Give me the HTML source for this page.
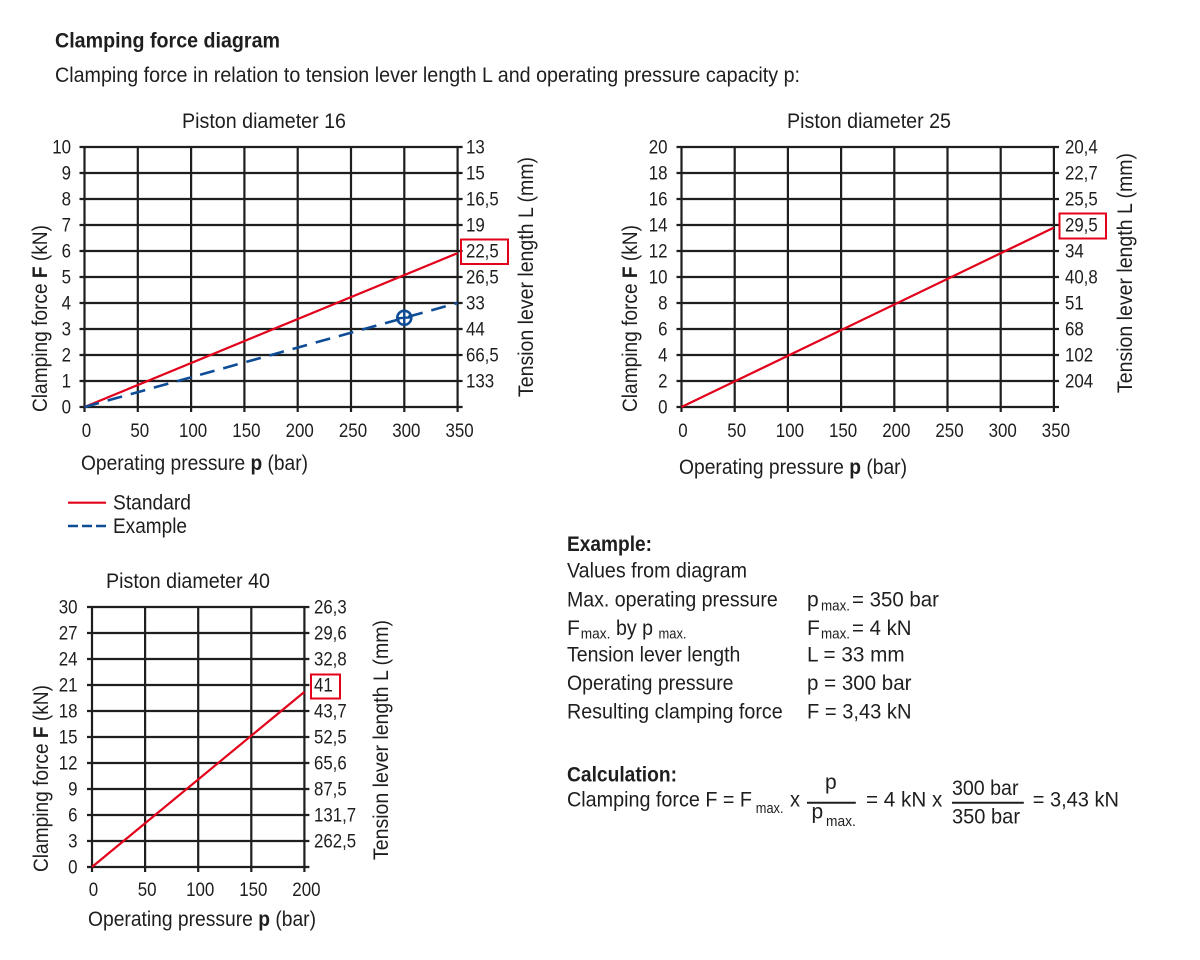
<!DOCTYPE html>
<html><head><meta charset="utf-8"><style>
html,body{margin:0;padding:0;background:#fff;}
svg{display:block;}
text{font-family:"Liberation Sans Narrow","Liberation Sans",sans-serif;fill:#1e1e1e;}
.t{font-size:19px;}
.l{font-size:21px;}
.s{font-size:15px;}
.g line{stroke:#1e1e1e;stroke-width:2.2;}
</style></head><body>
<svg width="1200" height="960" viewBox="0 0 1200 960" xmlns="http://www.w3.org/2000/svg">
<!-- Header -->
<text x="55" y="47.3" class="l" font-weight="bold" textLength="225" lengthAdjust="spacingAndGlyphs">Clamping force diagram</text>
<text x="55" y="82" class="l" textLength="745" lengthAdjust="spacingAndGlyphs">Clamping force in relation to tension lever length L and operating pressure capacity p:</text>

<!-- ============ Chart 1 ============ -->
<text x="182" y="128" class="l" textLength="164" lengthAdjust="spacingAndGlyphs">Piston diameter 16</text>
<g class="g">
<line x1="79.5" y1="147" x2="462.6" y2="147"/><line x1="79.5" y1="173" x2="462.6" y2="173"/>
<line x1="79.5" y1="199" x2="462.6" y2="199"/><line x1="79.5" y1="225" x2="462.6" y2="225"/>
<line x1="79.5" y1="251" x2="462.6" y2="251"/><line x1="79.5" y1="277" x2="462.6" y2="277"/>
<line x1="79.5" y1="303" x2="462.6" y2="303"/><line x1="79.5" y1="329" x2="462.6" y2="329"/>
<line x1="79.5" y1="355" x2="462.6" y2="355"/><line x1="79.5" y1="381" x2="462.6" y2="381"/>
<line x1="79.5" y1="407" x2="462.6" y2="407"/>
<line x1="84.5" y1="146" x2="84.5" y2="412"/><line x1="137.8" y1="146" x2="137.8" y2="412"/>
<line x1="191.1" y1="146" x2="191.1" y2="412"/><line x1="244.4" y1="146" x2="244.4" y2="412"/>
<line x1="297.7" y1="146" x2="297.7" y2="412"/><line x1="351" y1="146" x2="351" y2="412"/>
<line x1="404.3" y1="146" x2="404.3" y2="412"/><line x1="457.6" y1="146" x2="457.6" y2="412"/>
</g>
<g class="t" text-anchor="end">
<text x="71" y="153.5" textLength="18.8" lengthAdjust="spacingAndGlyphs">10</text>
<text x="71" y="179.5" textLength="9.4" lengthAdjust="spacingAndGlyphs">9</text>
<text x="71" y="205.5" textLength="9.4" lengthAdjust="spacingAndGlyphs">8</text>
<text x="71" y="231.5" textLength="9.4" lengthAdjust="spacingAndGlyphs">7</text>
<text x="71" y="257.5" textLength="9.4" lengthAdjust="spacingAndGlyphs">6</text>
<text x="71" y="283.5" textLength="9.4" lengthAdjust="spacingAndGlyphs">5</text>
<text x="71" y="309.5" textLength="9.4" lengthAdjust="spacingAndGlyphs">4</text>
<text x="71" y="335.5" textLength="9.4" lengthAdjust="spacingAndGlyphs">3</text>
<text x="71" y="361.5" textLength="9.4" lengthAdjust="spacingAndGlyphs">2</text>
<text x="71" y="387.5" textLength="9.4" lengthAdjust="spacingAndGlyphs">1</text>
<text x="71" y="413.5" textLength="9.4" lengthAdjust="spacingAndGlyphs">0</text>
</g>
<g class="t">
<text x="466" y="153.5" textLength="18.8" lengthAdjust="spacingAndGlyphs">13</text>
<text x="466" y="179.5" textLength="18.8" lengthAdjust="spacingAndGlyphs">15</text>
<text x="466" y="205.5" textLength="32.7" lengthAdjust="spacingAndGlyphs">16,5</text>
<text x="466" y="231.5" textLength="18.8" lengthAdjust="spacingAndGlyphs">19</text>
<text x="466" y="257.5" textLength="32.7" lengthAdjust="spacingAndGlyphs">22,5</text>
<text x="466" y="283.5" textLength="32.7" lengthAdjust="spacingAndGlyphs">26,5</text>
<text x="466" y="309.5" textLength="18.8" lengthAdjust="spacingAndGlyphs">33</text>
<text x="466" y="335.5" textLength="18.8" lengthAdjust="spacingAndGlyphs">44</text>
<text x="466" y="361.5" textLength="32.7" lengthAdjust="spacingAndGlyphs">66,5</text>
<text x="466" y="387.5" textLength="28.2" lengthAdjust="spacingAndGlyphs">133</text>
</g>
<rect x="461" y="239.5" width="47" height="24.5" fill="none" stroke="#e2001a" stroke-width="2"/>
<g class="t" text-anchor="middle">
<text x="86.5" y="437" textLength="9.4" lengthAdjust="spacingAndGlyphs">0</text>
<text x="139.8" y="437" textLength="18.8" lengthAdjust="spacingAndGlyphs">50</text>
<text x="193.1" y="437" textLength="28.2" lengthAdjust="spacingAndGlyphs">100</text>
<text x="246.4" y="437" textLength="28.2" lengthAdjust="spacingAndGlyphs">150</text>
<text x="299.7" y="437" textLength="28.2" lengthAdjust="spacingAndGlyphs">200</text>
<text x="353" y="437" textLength="28.2" lengthAdjust="spacingAndGlyphs">250</text>
<text x="406.3" y="437" textLength="28.2" lengthAdjust="spacingAndGlyphs">300</text>
<text x="459.6" y="437" textLength="28.2" lengthAdjust="spacingAndGlyphs">350</text>
</g>
<line x1="84.5" y1="407" x2="457.6" y2="253.1" stroke="#e2001a" stroke-width="2.2"/>
<line x1="84.5" y1="407" x2="457.6" y2="303" stroke="#0f4c96" stroke-width="2.6" stroke-dasharray="15 9"/>
<circle cx="404.3" cy="317.8" r="7" fill="none" stroke="#0f4c96" stroke-width="2.6"/>
<line x1="404.3" y1="310.8" x2="404.3" y2="324.8" stroke="#0f4c96" stroke-width="2.4"/>
<line x1="397.3" y1="318.3" x2="411.3" y2="317.3" stroke="#0f4c96" stroke-width="2.4"/>
<text x="81" y="470" class="l" textLength="227" lengthAdjust="spacingAndGlyphs">Operating pressure <tspan font-weight="bold">p</tspan> (bar)</text>
<text transform="translate(47,318.5) rotate(-90)" class="l" text-anchor="middle" textLength="187" lengthAdjust="spacingAndGlyphs">Clamping force <tspan font-weight="bold">F</tspan> (kN)</text>
<text transform="translate(533,277) rotate(-90)" class="l" text-anchor="middle" textLength="240" lengthAdjust="spacingAndGlyphs">Tension lever length L (mm)</text>

<!-- Legend -->
<line x1="68" y1="502.7" x2="106" y2="502.7" stroke="#e2001a" stroke-width="2.2"/>
<text x="113" y="509.5" class="l" textLength="78" lengthAdjust="spacingAndGlyphs">Standard</text>
<line x1="68" y1="526" x2="106" y2="526" stroke="#0f4c96" stroke-width="2.6" stroke-dasharray="10 4"/>
<text x="113" y="533" class="l" textLength="74" lengthAdjust="spacingAndGlyphs">Example</text>

<!-- ============ Chart 2 ============ -->
<text x="787" y="128" class="l" textLength="164" lengthAdjust="spacingAndGlyphs">Piston diameter 25</text>
<g class="g">
<line x1="676.5" y1="147" x2="1059" y2="147"/><line x1="676.5" y1="173" x2="1059" y2="173"/>
<line x1="676.5" y1="199" x2="1059" y2="199"/><line x1="676.5" y1="225" x2="1059" y2="225"/>
<line x1="676.5" y1="251" x2="1059" y2="251"/><line x1="676.5" y1="277" x2="1059" y2="277"/>
<line x1="676.5" y1="303" x2="1059" y2="303"/><line x1="676.5" y1="329" x2="1059" y2="329"/>
<line x1="676.5" y1="355" x2="1059" y2="355"/><line x1="676.5" y1="381" x2="1059" y2="381"/>
<line x1="676.5" y1="407" x2="1059" y2="407"/>
<line x1="681.5" y1="146" x2="681.5" y2="412"/><line x1="734.7" y1="146" x2="734.7" y2="412"/>
<line x1="787.9" y1="146" x2="787.9" y2="412"/><line x1="841.1" y1="146" x2="841.1" y2="412"/>
<line x1="894.3" y1="146" x2="894.3" y2="412"/><line x1="947.5" y1="146" x2="947.5" y2="412"/>
<line x1="1000.7" y1="146" x2="1000.7" y2="412"/><line x1="1053.9" y1="146" x2="1053.9" y2="412"/>
</g>
<g class="t" text-anchor="end">
<text x="667.5" y="153.5" textLength="18.8" lengthAdjust="spacingAndGlyphs">20</text>
<text x="667.5" y="179.5" textLength="18.8" lengthAdjust="spacingAndGlyphs">18</text>
<text x="667.5" y="205.5" textLength="18.8" lengthAdjust="spacingAndGlyphs">16</text>
<text x="667.5" y="231.5" textLength="18.8" lengthAdjust="spacingAndGlyphs">14</text>
<text x="667.5" y="257.5" textLength="18.8" lengthAdjust="spacingAndGlyphs">12</text>
<text x="667.5" y="283.5" textLength="18.8" lengthAdjust="spacingAndGlyphs">10</text>
<text x="667.5" y="309.5" textLength="9.4" lengthAdjust="spacingAndGlyphs">8</text>
<text x="667.5" y="335.5" textLength="9.4" lengthAdjust="spacingAndGlyphs">6</text>
<text x="667.5" y="361.5" textLength="9.4" lengthAdjust="spacingAndGlyphs">4</text>
<text x="667.5" y="387.5" textLength="9.4" lengthAdjust="spacingAndGlyphs">2</text>
<text x="667.5" y="413.5" textLength="9.4" lengthAdjust="spacingAndGlyphs">0</text>
</g>
<g class="t">
<text x="1065" y="153.5" textLength="32.7" lengthAdjust="spacingAndGlyphs">20,4</text>
<text x="1065" y="179.5" textLength="32.7" lengthAdjust="spacingAndGlyphs">22,7</text>
<text x="1065" y="205.5" textLength="32.7" lengthAdjust="spacingAndGlyphs">25,5</text>
<text x="1065" y="231.5" textLength="32.7" lengthAdjust="spacingAndGlyphs">29,5</text>
<text x="1065" y="257.5" textLength="18.8" lengthAdjust="spacingAndGlyphs">34</text>
<text x="1065" y="283.5" textLength="32.7" lengthAdjust="spacingAndGlyphs">40,8</text>
<text x="1065" y="309.5" textLength="18.8" lengthAdjust="spacingAndGlyphs">51</text>
<text x="1065" y="335.5" textLength="18.8" lengthAdjust="spacingAndGlyphs">68</text>
<text x="1065" y="361.5" textLength="28.2" lengthAdjust="spacingAndGlyphs">102</text>
<text x="1065" y="387.5" textLength="28.2" lengthAdjust="spacingAndGlyphs">204</text>
</g>
<rect x="1059.5" y="213.5" width="46.5" height="25" fill="none" stroke="#e2001a" stroke-width="2"/>
<g class="t" text-anchor="middle">
<text x="683" y="437" textLength="9.4" lengthAdjust="spacingAndGlyphs">0</text>
<text x="736.7" y="437" textLength="18.8" lengthAdjust="spacingAndGlyphs">50</text>
<text x="789.9" y="437" textLength="28.2" lengthAdjust="spacingAndGlyphs">100</text>
<text x="843.1" y="437" textLength="28.2" lengthAdjust="spacingAndGlyphs">150</text>
<text x="896.3" y="437" textLength="28.2" lengthAdjust="spacingAndGlyphs">200</text>
<text x="949.5" y="437" textLength="28.2" lengthAdjust="spacingAndGlyphs">250</text>
<text x="1002.7" y="437" textLength="28.2" lengthAdjust="spacingAndGlyphs">300</text>
<text x="1055.9" y="437" textLength="28.2" lengthAdjust="spacingAndGlyphs">350</text>
</g>
<line x1="681.5" y1="407" x2="1053.9" y2="227.6" stroke="#e2001a" stroke-width="2.2"/>
<text x="679" y="474" class="l" textLength="228" lengthAdjust="spacingAndGlyphs">Operating pressure <tspan font-weight="bold">p</tspan> (bar)</text>
<text transform="translate(637,318.5) rotate(-90)" class="l" text-anchor="middle" textLength="187" lengthAdjust="spacingAndGlyphs">Clamping force <tspan font-weight="bold">F</tspan> (kN)</text>
<text transform="translate(1132,273) rotate(-90)" class="l" text-anchor="middle" textLength="240" lengthAdjust="spacingAndGlyphs">Tension lever length L (mm)</text>

<!-- ============ Chart 3 ============ -->
<text x="106" y="588" class="l" textLength="164" lengthAdjust="spacingAndGlyphs">Piston diameter 40</text>
<g class="g">
<line x1="87" y1="607" x2="309.4" y2="607"/><line x1="87" y1="633" x2="309.4" y2="633"/>
<line x1="87" y1="659" x2="309.4" y2="659"/><line x1="87" y1="685" x2="309.4" y2="685"/>
<line x1="87" y1="711" x2="309.4" y2="711"/><line x1="87" y1="737" x2="309.4" y2="737"/>
<line x1="87" y1="763" x2="309.4" y2="763"/><line x1="87" y1="789" x2="309.4" y2="789"/>
<line x1="87" y1="815" x2="309.4" y2="815"/><line x1="87" y1="841" x2="309.4" y2="841"/>
<line x1="87" y1="867" x2="309.4" y2="867"/>
<line x1="92" y1="606" x2="92" y2="872"/><line x1="145.1" y1="606" x2="145.1" y2="872"/>
<line x1="198.2" y1="606" x2="198.2" y2="872"/><line x1="251.3" y1="606" x2="251.3" y2="872"/>
<line x1="304.4" y1="606" x2="304.4" y2="872"/>
</g>
<g class="t" text-anchor="end">
<text x="77.5" y="613.5" textLength="18.8" lengthAdjust="spacingAndGlyphs">30</text>
<text x="77.5" y="639.5" textLength="18.8" lengthAdjust="spacingAndGlyphs">27</text>
<text x="77.5" y="665.5" textLength="18.8" lengthAdjust="spacingAndGlyphs">24</text>
<text x="77.5" y="691.5" textLength="18.8" lengthAdjust="spacingAndGlyphs">21</text>
<text x="77.5" y="717.5" textLength="18.8" lengthAdjust="spacingAndGlyphs">18</text>
<text x="77.5" y="743.5" textLength="18.8" lengthAdjust="spacingAndGlyphs">15</text>
<text x="77.5" y="769.5" textLength="18.8" lengthAdjust="spacingAndGlyphs">12</text>
<text x="77.5" y="795.5" textLength="9.4" lengthAdjust="spacingAndGlyphs">9</text>
<text x="77.5" y="821.5" textLength="9.4" lengthAdjust="spacingAndGlyphs">6</text>
<text x="77.5" y="847.5" textLength="9.4" lengthAdjust="spacingAndGlyphs">3</text>
<text x="77.5" y="873.5" textLength="9.4" lengthAdjust="spacingAndGlyphs">0</text>
</g>
<g class="t">
<text x="314" y="613.5" textLength="32.7" lengthAdjust="spacingAndGlyphs">26,3</text>
<text x="314" y="639.5" textLength="32.7" lengthAdjust="spacingAndGlyphs">29,6</text>
<text x="314" y="665.5" textLength="32.7" lengthAdjust="spacingAndGlyphs">32,8</text>
<text x="314" y="691.5" textLength="18.8" lengthAdjust="spacingAndGlyphs">41</text>
<text x="314" y="717.5" textLength="32.7" lengthAdjust="spacingAndGlyphs">43,7</text>
<text x="314" y="743.5" textLength="32.7" lengthAdjust="spacingAndGlyphs">52,5</text>
<text x="314" y="769.5" textLength="32.7" lengthAdjust="spacingAndGlyphs">65,6</text>
<text x="314" y="795.5" textLength="32.7" lengthAdjust="spacingAndGlyphs">87,5</text>
<text x="314" y="821.5" textLength="42.1" lengthAdjust="spacingAndGlyphs">131,7</text>
<text x="314" y="847.5" textLength="42.1" lengthAdjust="spacingAndGlyphs">262,5</text>
</g>
<rect x="311" y="674.5" width="29" height="24" fill="none" stroke="#e2001a" stroke-width="2"/>
<g class="t" text-anchor="middle">
<text x="93.5" y="896" textLength="9.4" lengthAdjust="spacingAndGlyphs">0</text>
<text x="147.1" y="896" textLength="18.8" lengthAdjust="spacingAndGlyphs">50</text>
<text x="200.2" y="896" textLength="28.2" lengthAdjust="spacingAndGlyphs">100</text>
<text x="253.3" y="896" textLength="28.2" lengthAdjust="spacingAndGlyphs">150</text>
<text x="306.4" y="896" textLength="28.2" lengthAdjust="spacingAndGlyphs">200</text>
</g>
<line x1="92" y1="867" x2="304.4" y2="691.9" stroke="#e2001a" stroke-width="2.2"/>
<text x="88" y="926" class="l" textLength="228" lengthAdjust="spacingAndGlyphs">Operating pressure <tspan font-weight="bold">p</tspan> (bar)</text>
<text transform="translate(48,778.5) rotate(-90)" class="l" text-anchor="middle" textLength="187" lengthAdjust="spacingAndGlyphs">Clamping force <tspan font-weight="bold">F</tspan> (kN)</text>
<text transform="translate(388,740) rotate(-90)" class="l" text-anchor="middle" textLength="240" lengthAdjust="spacingAndGlyphs">Tension lever length L (mm)</text>

<!-- ============ Example block ============ -->
<text x="567" y="551" class="l" font-weight="bold" textLength="85" lengthAdjust="spacingAndGlyphs">Example:</text>
<text x="567" y="577.5" class="l" textLength="180" lengthAdjust="spacingAndGlyphs">Values from diagram</text>
<text x="567" y="606.7" class="l" textLength="210.7" lengthAdjust="spacingAndGlyphs">Max. operating pressure</text>
<text x="567" y="635" class="l">F</text>
<text x="580.8" y="638.3" class="s" textLength="29.6" lengthAdjust="spacingAndGlyphs">max.</text>
<text x="616" y="635" class="l" textLength="37" lengthAdjust="spacingAndGlyphs">by p</text>
<text x="658.5" y="638.3" class="s" textLength="28" lengthAdjust="spacingAndGlyphs">max.</text>
<text x="567" y="661.7" class="l" textLength="173.4" lengthAdjust="spacingAndGlyphs">Tension lever length</text>
<text x="567" y="690" class="l" textLength="166.5" lengthAdjust="spacingAndGlyphs">Operating pressure</text>
<text x="567" y="718.3" class="l" textLength="215.7" lengthAdjust="spacingAndGlyphs">Resulting clamping force</text>

<text x="807" y="606.7" class="l">p</text>
<text x="821" y="610.7" class="s" textLength="29" lengthAdjust="spacingAndGlyphs">max.</text>
<text x="852" y="606.7" class="l" textLength="87" lengthAdjust="spacingAndGlyphs">= 350 bar</text>
<text x="807" y="635" class="l">F</text>
<text x="821" y="638.3" class="s" textLength="29" lengthAdjust="spacingAndGlyphs">max.</text>
<text x="852" y="635" class="l" textLength="59.5" lengthAdjust="spacingAndGlyphs">= 4 kN</text>
<text x="807" y="661.7" class="l" textLength="97.6" lengthAdjust="spacingAndGlyphs">L = 33 mm</text>
<text x="807" y="690" class="l" textLength="104.5" lengthAdjust="spacingAndGlyphs">p = 300 bar</text>
<text x="807" y="718.3" class="l" textLength="104.5" lengthAdjust="spacingAndGlyphs">F = 3,43 kN</text>

<!-- Calculation -->
<text x="567" y="781.7" class="l" font-weight="bold" textLength="110" lengthAdjust="spacingAndGlyphs">Calculation:</text>
<text x="567" y="806.7" class="l" textLength="185" lengthAdjust="spacingAndGlyphs">Clamping force F = F</text>
<text x="755.8" y="813" class="s" textLength="27.7" lengthAdjust="spacingAndGlyphs">max.</text>
<text x="790" y="806.7" class="l" textLength="10" lengthAdjust="spacingAndGlyphs">x</text>
<line x1="807" y1="802.7" x2="855.8" y2="802.7" stroke="#1e1e1e" stroke-width="2"/>
<text x="830.8" y="789" class="l" text-anchor="middle">p</text>
<text x="811.5" y="818.7" class="l">p</text>
<text x="826" y="826" class="s" textLength="29.8" lengthAdjust="spacingAndGlyphs">max.</text>
<text x="866" y="806.7" class="l" textLength="76.3" lengthAdjust="spacingAndGlyphs">= 4 kN x</text>
<line x1="952" y1="802.7" x2="1023.8" y2="802.7" stroke="#1e1e1e" stroke-width="2"/>
<text x="952" y="795" class="l" textLength="66.5" lengthAdjust="spacingAndGlyphs">300 bar</text>
<text x="952" y="823.3" class="l" textLength="68" lengthAdjust="spacingAndGlyphs">350 bar</text>
<text x="1032.7" y="806.7" class="l" textLength="86.3" lengthAdjust="spacingAndGlyphs">= 3,43 kN</text>
</svg>
</body></html>
